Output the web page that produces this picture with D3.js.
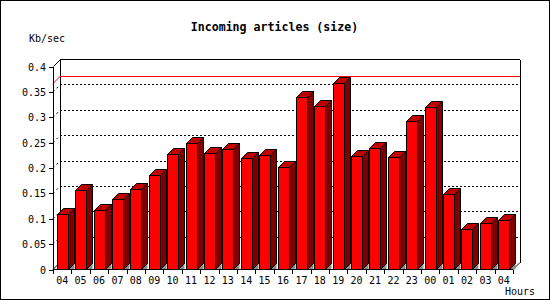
<!DOCTYPE html>
<html><head><meta charset="utf-8">
<script src="https://cdn.jsdelivr.net/npm/d3@7"></script>
<style>body{margin:0;background:#fff}svg{display:block}</style>
</head><body>
<script>
const hours = ["04","05","06","07","08","09","10","11","12","13","14","15","16","17","18","19","20","21","22","23","00","01","02","03","04"];
const kbPerSec = [0.109,0.157,0.117,0.139,0.158,0.186,0.228,0.249,0.230,0.237,0.219,0.225,0.2015,0.340,0.322,0.367,0.223,0.239,0.221,0.293,0.320,0.148,0.080,0.091,0.097];
const yTicks = [0,0.05,0.1,0.15,0.2,0.25,0.3,0.35,0.4];
const yTickLabels = ["0","0.05","0.1","0.15","0.2","0.25","0.3","0.35","0.4"];
const title = "Incoming articles (size)";
const yTitle = "Kb/sec";
const xTitle = "Hours";

const W = 550, H = 300;
const D = 7;      // wall depth
const BD = 6;     // bar depth
const svg = d3.select("body").append("svg").attr("width", W).attr("height", H);
const mono = "'DejaVu Sans Mono', 'Liberation Mono', monospace";

svg.append("rect").attr("x",0.5).attr("y",0.5).attr("width",W-1).attr("height",H-1)
  .attr("fill","#fff").attr("stroke","#000");

const x = d3.scaleBand().domain(d3.range(hours.length)).range([53, 513]).paddingInner(0).paddingOuter(0);
const y = d3.scaleLinear().domain([0, 0.4]).range([269.5, 66.5]);
const x0 = 53, x1 = 513;

const g = svg.append("g");
// back wall
g.append("line").attr("x1",x0+D).attr("x2",x1+D).attr("y1",y(0.4)-D).attr("y2",y(0.4)-D).attr("stroke","#000").attr("shape-rendering","crispEdges");
g.append("line").attr("x1",x0+D+0.5).attr("x2",x0+D+0.5).attr("y1",y(0.4)-D).attr("y2",y(0)-D).attr("stroke","#000").attr("shape-rendering","crispEdges");
g.append("line").attr("x1",x1+D+0.5).attr("x2",x1+D+0.5).attr("y1",y(0.4)-D).attr("y2",y(0)-D).attr("stroke","#000").attr("shape-rendering","crispEdges");

// grid lines (dotted)
yTicks.filter(v => v > 0 && v < 0.4).forEach(v => {
  g.append("line").attr("x1",x0+D).attr("x2",x1+D).attr("y1",y(v)-D).attr("y2",y(v)-D)
    .attr("stroke","#000").attr("stroke-dasharray","2,2").attr("shape-rendering","crispEdges");
  g.append("line").attr("x1",x0).attr("x2",x0+D).attr("y1",y(v)).attr("y2",y(v)-D)
    .attr("stroke","#000").attr("stroke-dasharray","2,3");
});
// floor edges
g.append("line").attr("x1",x0).attr("x2",x0+D).attr("y1",y(0)).attr("y2",y(0)-D).attr("stroke","#000");
g.append("line").attr("x1",x1).attr("x2",x1+D).attr("y1",y(0)).attr("y2",y(0)-D).attr("stroke","#000");
// top-left diag
g.append("line").attr("x1",x0+0.5).attr("x2",x0+D+0.5).attr("y1",y(0.4)).attr("y2",y(0.4)-D).attr("stroke","#000");

// max line (red)
const vmax = d3.max(kbPerSec);
g.append("line").attr("x1",x0+D).attr("x2",x1+D).attr("y1",Math.round(y(vmax)-D)+0.5).attr("y2",Math.round(y(vmax)-D)+0.5)
  .attr("stroke","#ff0000").attr("shape-rendering","crispEdges");
g.append("line").attr("x1",x0).attr("x2",x0+D).attr("y1",Math.round(y(vmax))+0.5).attr("y2",Math.round(y(vmax)-D)+0.5)
  .attr("stroke","#ff0000");

// bars
const bars = g.append("g");
const bw = 11;
kbPerSec.forEach((v, i) => {
  const bx = Math.round(x(i) + 3.7) + 0.5;
  const top = Math.round(y(v)) + 0.5;
  const base = y(0);
  const b = bars.append("g");
  // shadow triangle
  b.append("polygon").attr("points", [[bx+bw, base],[bx+bw+BD, base-BD],[bx+bw+BD, base]].join(" "))
    .attr("fill","#8c8c8c");
  // side
  b.append("polygon").attr("points", [[bx+bw, base],[bx+bw+BD, base-BD],[bx+bw+BD, top-BD],[bx+bw, top]].join(" "))
    .attr("fill","#800000").attr("stroke","#000").attr("stroke-linejoin","miter");
  // top
  b.append("polygon").attr("points", [[bx, top],[bx+BD, top-BD],[bx+bw+BD, top-BD],[bx+bw, top]].join(" "))
    .attr("fill","#c00000").attr("stroke","#000");
  // front
  b.append("rect").attr("x",bx).attr("y",top).attr("width",bw).attr("height",base-top)
    .attr("fill","#ff0000").attr("stroke","#000").attr("shape-rendering","crispEdges");
});

// y axis (front)
g.append("line").attr("x1",x0+0.5).attr("x2",x0+0.5).attr("y1",y(0.4)).attr("y2",y(0)).attr("stroke","#000").attr("shape-rendering","crispEdges");
yTicks.forEach((v, i) => {
  const yy = Math.round(y(v)) + 0.5;
  g.append("line").attr("x1",x0-4).attr("x2",x0).attr("y1",yy).attr("y2",yy).attr("stroke","#000").attr("shape-rendering","crispEdges");
  g.append("text").attr("x",46).attr("y",yy+3.5).attr("text-anchor","end")
    .attr("font-family",mono).attr("font-size","10px").attr("fill","#000").text(yTickLabels[i]);
});

// x axis (front)
g.append("line").attr("x1",x0).attr("x2",x1).attr("y1",y(0)).attr("y2",y(0)).attr("stroke","#000").attr("shape-rendering","crispEdges");
d3.range(hours.length + 1).forEach(i => {
  const xx = Math.round(x0 + i * x.step()) + 0.5;
  g.append("line").attr("x1",xx).attr("x2",xx).attr("y1",y(0)).attr("y2",y(0)+4).attr("stroke","#000").attr("shape-rendering","crispEdges");
});
hours.forEach((h, i) => {
  g.append("text").attr("x", x(i) + x.bandwidth()/2).attr("y",284).attr("text-anchor","middle")
    .attr("font-family",mono).attr("font-size","10px").attr("fill","#000").text(h);
});

// titles
svg.append("text").attr("x",274.5).attr("y",31).attr("text-anchor","middle")
  .attr("font-family",mono).attr("font-weight","bold").attr("font-size","11.6px").attr("fill","#000").text(title);
svg.append("text").attr("x",29).attr("y",42).attr("font-family",mono).attr("font-size","10px").attr("fill","#000").text(yTitle);
svg.append("text").attr("x",535).attr("y",295).attr("text-anchor","end").attr("font-family",mono).attr("font-size","10px").attr("fill","#000").text(xTitle);
</script>
</body></html>
